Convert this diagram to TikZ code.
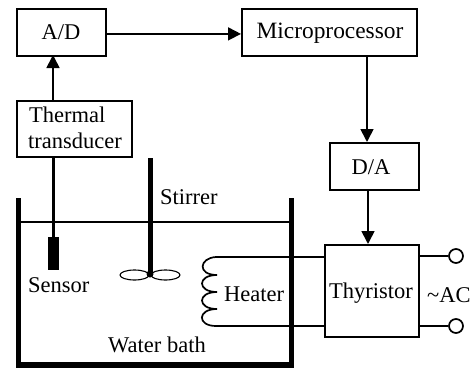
\documentclass[tikz,border=0pt]{standalone}
\usepackage{fontspec}
\setmainfont{Liberation Serif}
\usetikzlibrary{arrows.meta}
\tikzset{
 x=1pt,y=-1pt,
 blockbox/.style={draw=black,line width=1.8pt,fill=white,inner sep=0pt,anchor=north west},
 lbl/.style={inner sep=0pt,font=\fontsize{22.5}{25}\selectfont,text=black},
 wire/.style={draw=black,line width=1.7pt},
 arrowwire/.style={wire,-{Triangle[length=13pt,width=13pt]}},
 wall/.style={draw=black,line width=5.5pt},
 term/.style={circle,draw=black,line width=1.7pt,fill=white,minimum size=14pt,inner sep=0pt},
}
\begin{document}
\begin{tikzpicture}
\useasboundingbox (0,0) rectangle (471,370);
\node[blockbox,minimum width=89pt,minimum height=47pt] (ad) at (16,8) {};
\node[lbl] at (61,32) {A/D};
\node[blockbox,minimum width=115pt,minimum height=56pt] (tt) at (16,100) {};
\node[lbl,anchor=west] at (29,115) {Thermal};
\node[lbl,anchor=west] at (28,141) {transducer};
\node[blockbox,minimum width=175pt,minimum height=47pt] (mp) at (241,8) {};
\node[lbl,font=\fontsize{23.4}{25}\selectfont] at (330,33) {Microprocessor};
\node[blockbox,minimum width=89pt,minimum height=47pt] (da) at (329,142) {};
\node[lbl] at (371,167) {D/A};
\node[blockbox,minimum width=94pt,minimum height=92pt] (th) at (324,244) {};
\node[lbl] at (371,293) {Thyristor};
\node[lbl,anchor=west] at (427,295) {\textasciitilde AC};
% connectors
\coordinate (adin) at (53,55);
\coordinate (ttout) at (53,100);
\draw[arrowwire] (ttout) -- (adin);
\draw[arrowwire] ([yshift=-1.5pt]ad.east) -- ([yshift=-1.5pt]mp.west);
\draw[arrowwire] (367,55) -- (367,142);
\draw[arrowwire] (368,189) -- (368,244);
% bath
\draw[wall] (18.7,198) -- (18.7,365) -- (291.5,365) -- (291.5,198);
\draw[draw=black,line width=1.5pt] (20,222) -- (290,222);
% sensor
\coordinate (ttb) at (53,156);
\coordinate (sens) at (53,238);
\draw[draw=black,line width=3pt] (ttb) -- (sens);
\fill[black] (48,237) rectangle (59,270);
\node[lbl,anchor=west] at (28,285) {Sensor};
% stirrer
\draw[draw=black,line width=5pt] (150,158) -- (150,274);
\draw[black,line width=1.1pt] (134.5,275) ellipse [x radius=14.5pt,y radius=5pt];
\draw[black,line width=1.1pt] (165.5,275) ellipse [x radius=14.5pt,y radius=5pt];
\fill[black] (150,274) circle (3.5pt);
\node[lbl,anchor=west] at (160,197) {Stirrer};
% heater
\coordinate (hu) at (216,257);
\coordinate (hl) at (216,326);
\draw[draw=black,line width=1.7pt] (hu)
  .. controls (199,258) and (197,275) .. (217,275)
  .. controls (197,275) and (197,292) .. (217,292)
  .. controls (197,292) and (197,309) .. (217,309)
  .. controls (197,309) and (197,326) .. (216,326);
\coordinate (thu) at (324,257);
\coordinate (thl) at (324,326);
\draw[wire] (hu) -- (thu);
\draw[wire] (hl) -- (thl);
\node[lbl,anchor=west] at (224,294) {Heater};
\node[lbl] at (157,345) {Water bath};
% terminals
\node[term] (t1) at (456,256) {};
\node[term] (t2) at (456,326) {};
\draw[wire] (418,256) -- (t1.west);
\draw[wire] (418,326) -- (t2.west);
\end{tikzpicture}
\end{document}
